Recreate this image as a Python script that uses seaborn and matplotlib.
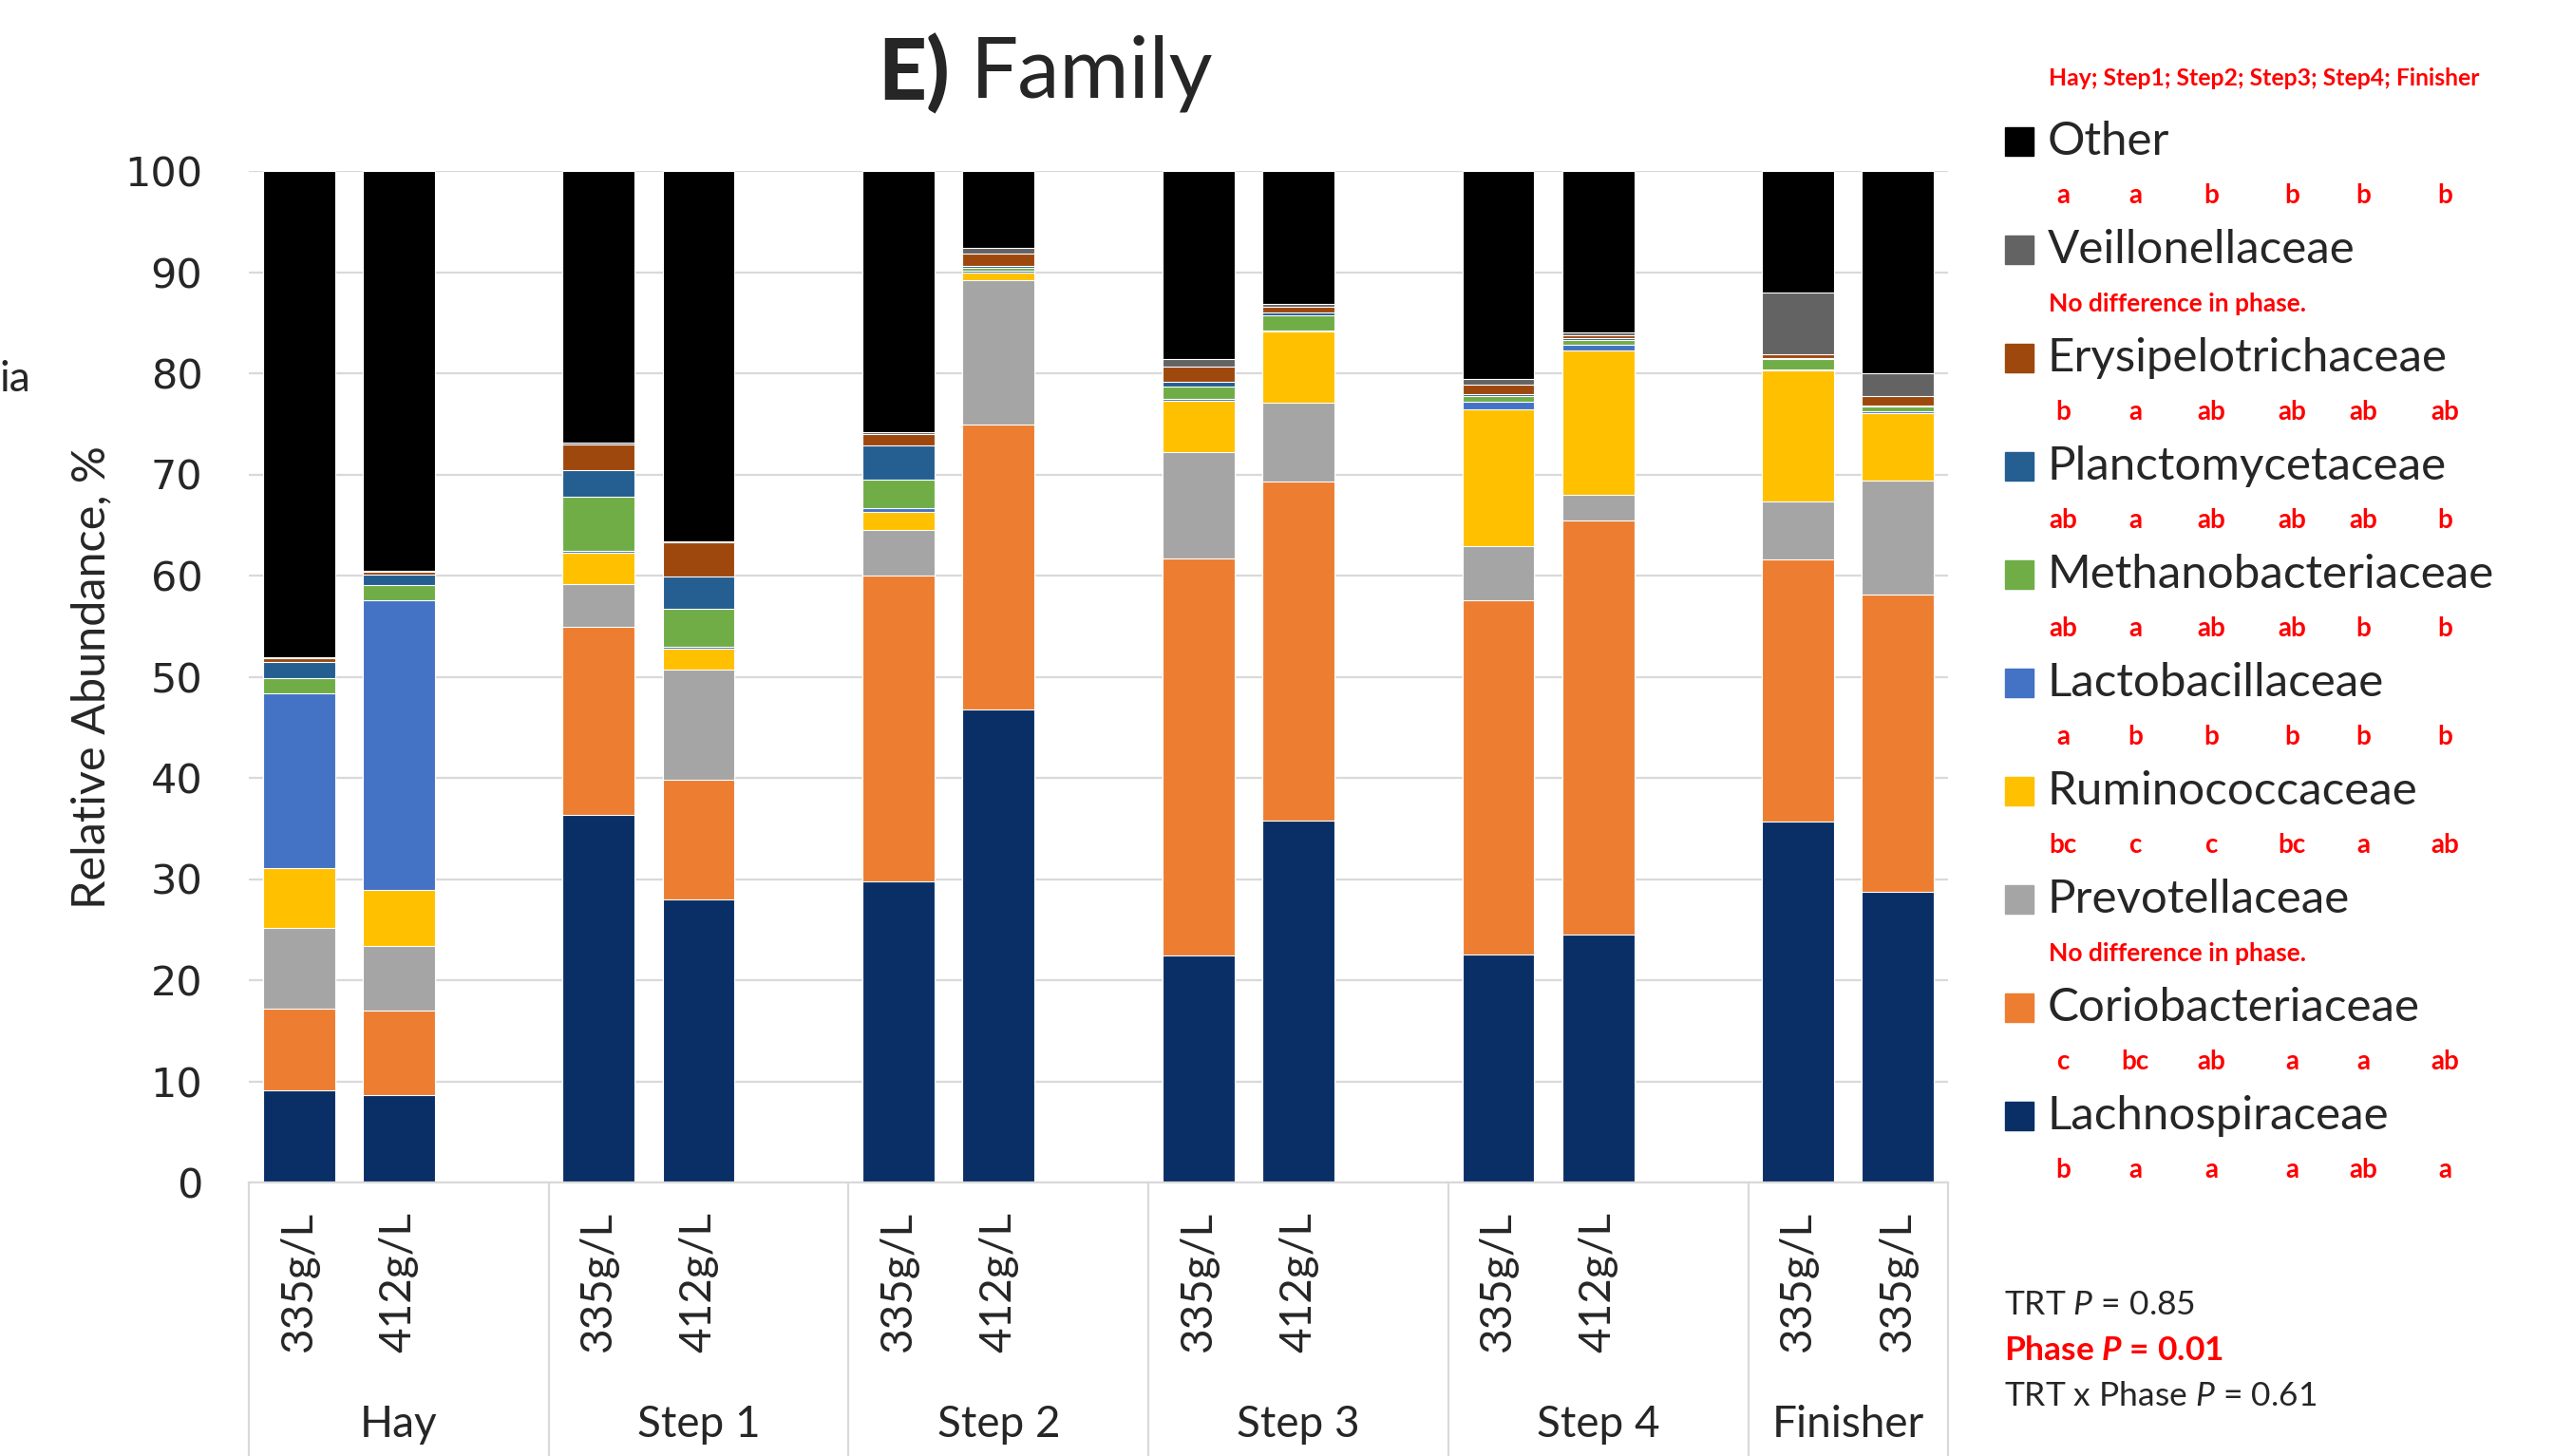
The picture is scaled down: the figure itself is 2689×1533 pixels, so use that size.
import numpy as np
import pandas as pd
import matplotlib
matplotlib.use("Agg")
import matplotlib.pyplot as plt
from matplotlib.patches import Rectangle
from matplotlib.transforms import blended_transform_factory
import seaborn as sns

# ---- data -------------------------------------------------------------
phases = ["Hay", "Step 1", "Step 2", "Step 3", "Step 4", "Finisher"]
treatments = ["335g/L", "412g/L", "335g/L", "412g/L", "335g/L", "412g/L",
              "335g/L", "412g/L", "335g/L", "412g/L", "335g/L", "335g/L"]

# families from the bottom of each stack to the top
families = ["Lachnospiraceae", "Coriobacteriaceae", "Prevotellaceae",
            "Ruminococcaceae", "Lactobacillaceae", "Methanobacteriaceae",
            "Planctomycetaceae", "Erysipelotrichaceae", "Veillonellaceae", "Other"]

lachnospiraceae     = [9.1, 8.6, 36.3, 28.0, 29.8, 46.8, 22.4, 35.8, 22.5, 24.5, 35.7, 28.7]
coriobacteriaceae   = [8.1, 8.4, 18.6, 11.8, 30.2, 28.1, 39.3, 33.5, 35.1, 40.9, 25.9, 29.4]
prevotellaceae      = [8.0, 6.4, 4.3, 10.9, 4.5, 14.3, 10.5, 7.8, 5.3, 2.6, 5.7, 11.3]
ruminococcaceae     = [5.9, 5.5, 3.1, 2.1, 1.8, 0.8, 5.1, 7.0, 13.5, 14.3, 13.0, 6.7]
lactobacillaceae    = [17.3, 28.7, 0.1, 0.2, 0.4, 0.1, 0.2, 0.1, 0.8, 0.5, 0.1, 0.1]
methanobacteriaceae = [1.5, 1.5, 5.4, 3.7, 2.8, 0.3, 1.2, 1.5, 0.5, 0.5, 1.0, 0.5]
planctomycetaceae   = [1.6, 1.0, 2.6, 3.2, 3.4, 0.2, 0.5, 0.3, 0.2, 0.2, 0.1, 0.1]
erysipelotrichaceae = [0.3, 0.3, 2.6, 3.4, 1.1, 1.2, 1.5, 0.6, 1.0, 0.3, 0.4, 0.9]
veillonellaceae     = [0.1, 0.1, 0.1, 0.1, 0.2, 0.6, 0.7, 0.3, 0.5, 0.2, 6.1, 2.3]
other               = [48.1, 39.5, 26.9, 36.6, 25.8, 7.6, 18.6, 13.1, 20.6, 16.0, 12.0, 20.0]

series = [lachnospiraceae, coriobacteriaceae, prevotellaceae, ruminococcaceae,
          lactobacillaceae, methanobacteriaceae, planctomycetaceae,
          erysipelotrichaceae, veillonellaceae, other]

# significance letters per family (Hay; Step1; Step2; Step3; Step4; Finisher)
letters = {
    "Other": ["a", "a", "b", "b", "b", "b"],
    "Veillonellaceae": "No difference in phase.",
    "Erysipelotrichaceae": ["b", "a", "ab", "ab", "ab", "ab"],
    "Planctomycetaceae": ["ab", "a", "ab", "ab", "ab", "b"],
    "Methanobacteriaceae": ["ab", "a", "ab", "ab", "b", "b"],
    "Lactobacillaceae": ["a", "b", "b", "b", "b", "b"],
    "Ruminococcaceae": ["bc", "c", "c", "bc", "a", "ab"],
    "Prevotellaceae": "No difference in phase.",
    "Coriobacteriaceae": ["c", "bc", "ab", "a", "a", "ab"],
    "Lachnospiraceae": ["b", "a", "a", "a", "ab", "a"],
}
letters_header = "Hay; Step1; Step2; Step3; Step4; Finisher"
stats_lines = ["TRT $P$ = 0.85", r"Phase $\mathbfit{P}$ = 0.01", "TRT x Phase $P$ = 0.61"]

colors = {
    "Lachnospiraceae": "#0A2F66",
    "Coriobacteriaceae": "#ED7D31",
    "Prevotellaceae": "#A5A5A5",
    "Ruminococcaceae": "#FFC000",
    "Lactobacillaceae": "#4472C4",
    "Methanobacteriaceae": "#70AD47",
    "Planctomycetaceae": "#255E91",
    "Erysipelotrichaceae": "#9E480E",
    "Veillonellaceae": "#636363",
    "Other": "#000000",
}

# ---- styling ------------------------------------------------------------
sns.set_theme(style="white")
TEXT_FONT = ["Lato", "DejaVu Sans"]
plt.rcParams["font.family"] = TEXT_FONT
plt.rcParams["mathtext.fontset"] = "custom"
plt.rcParams["mathtext.rm"] = "Lato"
plt.rcParams["mathtext.it"] = "Lato:italic"
plt.rcParams["mathtext.bf"] = "Lato:bold"
plt.rcParams["mathtext.bfit"] = "Lato:bold:italic"

W, H = 2689, 1533
fig = plt.figure(figsize=(W / 100, H / 100), dpi=100)

def fx(px):
    return px / W

def fy(py):
    return 1 - py / H

ax_left, ax_right, ax_top, ax_bottom = 262, 2051, 180, 1245
ax = fig.add_axes([fx(ax_left), fy(ax_bottom), fx(ax_right - ax_left), (ax_bottom - ax_top) / H])

# ---- stacked bars ---------------------------------------------------------
table = pd.DataFrame({"phase": np.repeat(phases, 2), "treatment": treatments})
for fam, vals in zip(families, series):
    table[fam] = vals
# two bars per phase, with an empty slot between phases
table["pos"] = [3 * g + k for g in range(len(phases)) for k in range(2)]
tops = table[families].cumsum(axis=1)

for fam in reversed(families):
    sns.barplot(x=table["pos"], y=tops[fam], native_scale=True, width=0.72,
                color=colors[fam], saturation=1, errorbar=None,
                edgecolor="white", linewidth=0.8, ax=ax)

ax.set_xlim(-0.5, 16.5)
ax.set_ylim(0, 100)
ax.set_yticks(range(0, 101, 10))
ax.set_yticklabels([str(v) for v in range(0, 101, 10)], fontsize=31, family="DejaVu Sans")
ax.set_xticks(table["pos"])
ax.set_xticklabels(table["treatment"], rotation=90, fontsize=33, va="top", ha="center")
ax.tick_params(axis="y", length=0, pad=35)
ax.tick_params(axis="x", length=0, pad=22)
ax.set_xlabel("")
ax.set_ylabel("")
ax.yaxis.grid(True, color="#D9D9D9", linewidth=1.6)
ax.xaxis.grid(False)
ax.set_axisbelow(True)
for side in ["left", "top", "right"]:
    ax.spines[side].set_visible(False)
ax.spines["bottom"].set_color("#D9D9D9")
ax.spines["bottom"].set_linewidth(1.6)

# phase separators and phase labels under the axis
sep_tr = blended_transform_factory(ax.transData, fig.transFigure)
for xs in [-0.5, 2.5, 5.5, 8.5, 11.5, 14.5, 16.5]:
    ax.plot([xs, xs], [fy(ax_bottom), 0], color="#D9D9D9", linewidth=1.6,
            transform=sep_tr, clip_on=False)
group_centers = [3 * g + 1 for g in range(5)] + [15.5]
for xc, name in zip(group_centers, phases):
    ax.text(xc, fy(1500), name, transform=sep_tr, ha="center", va="center", fontsize=33)

# axis title and headline
fig.text(fx(96), fy(713), "Relative Abundance, %", rotation=90, ha="center", va="center", fontsize=35)
fig.text(fx(0), fy(400), "ia", ha="left", va="center", fontsize=32)
fig.text(fx(1000), fy(78), "E)", ha="right", va="center", fontsize=64, fontweight="black")
fig.text(fx(1022), fy(78), "Family", ha="left", va="center", fontsize=64)

# ---- legend with significance letters ------------------------------------
fig.text(fx(2157), fy(82), letters_header, ha="left", va="center", fontsize=17.8,
         fontweight="bold", color="#FF0000")
legend_order = list(reversed(families))
label_y0, step = 149, 114.0
letter_cols = [2172, 2248, 2328, 2413, 2488, 2574]
sq = 30
for i, fam in enumerate(legend_order):
    yc = label_y0 + i * step
    fig.add_artist(Rectangle((fx(2111), fy(yc + sq / 2)), sq / W, sq / H,
                             transform=fig.transFigure, color=colors[fam]))
    fig.text(fx(2156), fy(yc), fam, ha="left", va="center", fontsize=35.5)
    ly = yc + 57
    row = letters[fam]
    if isinstance(row, str):
        fig.text(fx(2157), fy(ly), row, ha="left", va="center", fontsize=19,
                 fontweight="bold", color="#FF0000")
    else:
        for xc, lt in zip(letter_cols, row):
            fig.text(fx(xc), fy(ly), lt, ha="center", va="center", fontsize=20,
                     fontweight="bold", color="#FF0000")

# ---- model statistics ----------------------------------------------------------
fig.text(fx(2110), fy(1374), stats_lines[0], ha="left", va="center", fontsize=25.5)
fig.text(fx(2110), fy(1422), stats_lines[1], ha="left", va="center", fontsize=25.5,
         fontweight="bold", color="#FF0000")
fig.text(fx(2110), fy(1470), stats_lines[2], ha="left", va="center", fontsize=25.5)

fig.savefig("out.png", dpi=100, facecolor="white")
